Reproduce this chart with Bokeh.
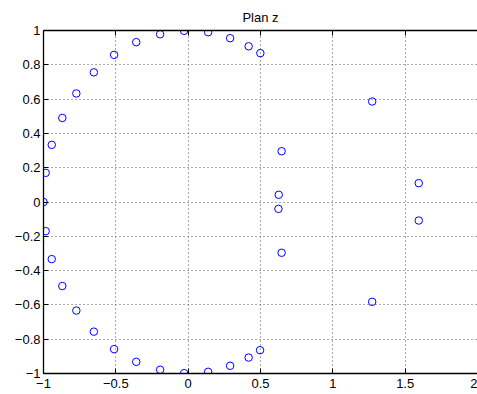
from bokeh.plotting import figure
from bokeh.models import FixedTicker, LinearAxis, Range1d
from bokeh.embed import file_html
from bokeh.resources import INLINE

# Pole/zero locations
x_vals = [-1.000, -0.985, -0.943, -0.870, -0.773, -0.652, -0.512, -0.359, -0.194, -0.028,
          0.138, 0.290, 0.418, 0.499,
          -0.985, -0.943, -0.870, -0.773, -0.652, -0.512, -0.359, -0.194, -0.028,
          0.138, 0.290, 0.418, 0.497,
          1.272, 1.272, 0.646, 0.646, 0.626, 0.624, 1.594, 1.594]
y_vals = [0.000, 0.170, 0.333, 0.490, 0.633, 0.756, 0.858, 0.932, 0.978, 0.998,
          0.990, 0.955, 0.908, 0.868,
          -0.170, -0.333, -0.490, -0.633, -0.756, -0.858, -0.932, -0.978, -0.998,
          -0.990, -0.955, -0.907, -0.864,
          0.586, -0.582, 0.296, -0.296, 0.042, -0.040, 0.110, -0.108]

x_ticks = [-1, -0.5, 0, 0.5, 1, 1.5, 2]
x_tick_labels = ["\u22121", "\u22120.5", "0", "0.5", "1", "1.5", "2"]
y_ticks = [-1, -0.8, -0.6, -0.4, -0.2, 0, 0.2, 0.4, 0.6, 0.8, 1]
y_tick_labels = ["\u22121", "\u22120.8", "\u22120.6", "\u22120.4", "\u22120.2", "0",
                 "0.2", "0.4", "0.6", "0.8", "1"]
title_text = "Plan z"

FONT = "Liberation Sans"
FS = "13px"

p = figure(width=477, height=394, output_backend="svg", toolbar_location=None,
           x_range=Range1d(-1, 2), y_range=Range1d(-1, 1),
           min_border_left=43, min_border_right=0, min_border_top=30, min_border_bottom=21,
           title=title_text)
p.title.align = "center"
p.title.text_font = FONT
p.title.text_font_size = FS
p.title.text_font_style = "normal"
p.title.text_color = "black"
p.title.standoff = 12

p.outline_line_color = None
p.background_fill_color = "white"
p.border_fill_color = "white"

def style_axis(ax, ticks, labels, show_labels=True):
    ax.ticker = FixedTicker(ticks=ticks)
    ax.major_label_overrides = {t: l for t, l in zip(ticks, labels)}
    ax.minor_tick_line_color = None
    ax.major_tick_in = 5
    ax.major_tick_out = 0
    ax.major_tick_line_color = "black"
    ax.axis_line_color = "black"
    ax.axis_line_width = 1.3
    ax.major_label_text_font = FONT
    ax.major_label_text_font_size = FS if show_labels else "0px"
    ax.major_label_text_color = "black"

style_axis(p.xaxis[0], x_ticks, x_tick_labels)
p.xaxis[0].major_label_standoff = 5
style_axis(p.yaxis[0], y_ticks, y_tick_labels)
p.yaxis[0].major_label_standoff = 3

top = LinearAxis()
style_axis(top, x_ticks, ["" for _ in x_ticks], show_labels=False)
top.major_label_standoff = 0
p.add_layout(top, "above")

for g in (p.xgrid[0], p.ygrid[0]):
    g.grid_line_color = "#555555"
    g.grid_line_dash = "1 3"
    g.grid_line_width = 1
p.xgrid[0].ticker = FixedTicker(ticks=x_ticks)
p.ygrid[0].ticker = FixedTicker(ticks=y_ticks)

p.scatter(x_vals, y_vals, marker="circle", size=7.5, fill_color=None,
          line_color="#0000ff", line_width=1)

open("out.html", "w").write(file_html(p, INLINE))
